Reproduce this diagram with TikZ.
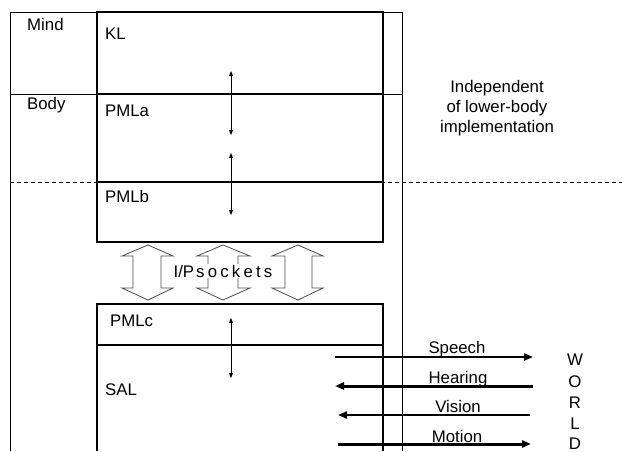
\documentclass[tikz,border=0pt]{standalone}
\usepackage{fontspec}
\setmainfont{Liberation Sans}
\usetikzlibrary{arrows.meta}
\begin{document}
\begin{tikzpicture}[x=1pt,y=-1pt,font=\fontsize{16.8}{19}\selectfont,
  thinline/.style={line width=0.9pt,black},
  thickline/.style={line width=2pt,black},
  dashline/.style={line width=0.9pt,dash pattern=on 4pt off 3pt},
  vdbl/.style={line width=0.9pt,{Triangle[length=5pt,width=4pt]}-{Triangle[length=5pt,width=4pt]}},
  ioarrow/.style={-{Triangle[length=9pt,width=7pt]}},
  sock/.style={line width=0.8pt,draw=black!70},
  lbl/.style={inner sep=0pt,anchor=base west},
  clbl/.style={inner sep=0pt,anchor=base},
  txt/.style={inner sep=0pt,align=center}]
\useasboundingbox (0,0) rectangle (622,451);
% frame
\draw[thinline] (10,451) -- (10,12) -- (402,12) -- (402,451);
\draw[thinline] (10,94) -- (402,94);
\draw[dashline] (10,182) -- (622,182);
% upper box
\draw[thickline] (97,12) rectangle (383,242);
\draw[thickline] (97,94) -- (383,94);
\draw[thickline] (97,182) -- (383,182);
% lower box
\draw[thickline] (97,451) -- (97,304) -- (383,304) -- (383,451);
\draw[thickline] (97,345) -- (383,345);
% labels
\node[lbl] (mind) at (27,30) {Mind};
\node[lbl] (body) at (27,109) {Body};
\node[lbl] (kl) at (105,39) {KL};
\node[lbl] (pmla) at (105,116) {PMLa};
\node[lbl] (pmlb) at (105,202) {PMLb};
\node[lbl] (pmlc) at (110,326) {PMLc};
\node[lbl] (sal) at (105,395) {SAL};
\node[clbl] (ind1) at (497,92) {Independent};
\node[clbl] (ind2) at (497,112) {of lower-body};
\node[clbl] (ind3) at (497,132) {implementation};
% vertical double arrows
\coordinate (a1t) at (231,71); \coordinate (a1b) at (231,135);
\coordinate (a2t) at (231,153); \coordinate (a2b) at (231,215);
\coordinate (a3t) at (231,318); \coordinate (a3b) at (231,378);
\draw[vdbl] (a1t) -- (a1b);
\draw[vdbl] (a2t) -- (a2b);
\draw[vdbl] (a3t) -- (a3b);
% sockets
\foreach \cx/\hl/\hr/\sl/\sr in {148/122/173/133/161, 223/197/250/208/238, 298/272/323/285/312}{
  \draw[sock] (\cx,245) -- (\hr,256) -- (\sr,256) -- (\sr,288) -- (\hr,288) -- (\cx,300)
    -- (\hl,288) -- (\sl,288) -- (\sl,256) -- (\hl,256) -- cycle;
}
\node[fill=white,inner sep=1pt] (sockets) at (223,271)
  {I/P\hspace{2pt}s\hspace{3.2pt}o\hspace{3.2pt}c\hspace{3.2pt}k\hspace{3.2pt}e\hspace{3.2pt}t\hspace{3.2pt}s};
% IO arrows
\coordinate (sp1) at (335,357); \coordinate (sp2) at (533,357);
\coordinate (he1) at (533,386); \coordinate (he2) at (335,386);
\coordinate (vi1) at (530,415); \coordinate (vi2) at (338,415);
\coordinate (mo1) at (338,444); \coordinate (mo2) at (531,444);
\draw[ioarrow,line width=2pt] (sp1) -- (sp2);
\draw[ioarrow,line width=3pt] (he1) -- (he2);
\draw[ioarrow,line width=2pt] (vi1) -- (vi2);
\draw[ioarrow,line width=3pt] (mo1) -- (mo2);
\node[clbl] (speech) at (457,353) {Speech};
\node[clbl] (hearing) at (458,383) {Hearing};
\node[clbl] (vision) at (458,412) {Vision};
\node[clbl] (motion) at (457,442) {Motion};
% WORLD
\node[clbl] (w) at (575,365) {W};
\node[clbl] (o) at (575,387) {O};
\node[clbl] (r) at (575,408) {R};
\node[clbl] (l) at (575,429) {L};
\node[clbl] (d) at (575,449) {D};
\end{tikzpicture}
\end{document}
